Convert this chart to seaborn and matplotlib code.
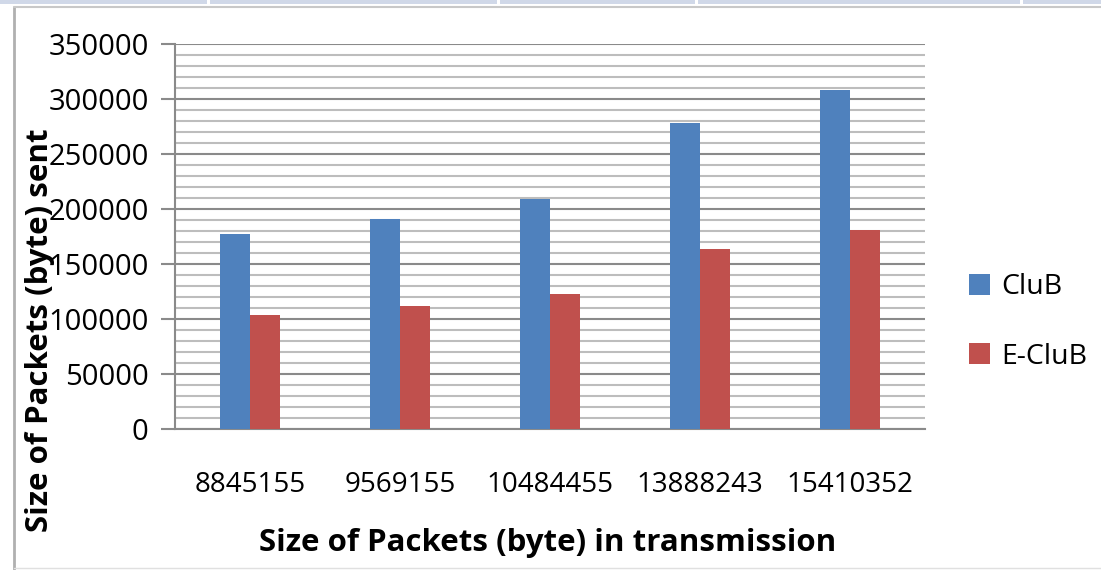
import matplotlib
matplotlib.use("Agg")
import matplotlib.pyplot as plt
import matplotlib.patches as mpatches
import matplotlib.lines as mlines
import seaborn as sns
import pandas as pd
from matplotlib.ticker import MultipleLocator

categories = ["8845155", "9569155", "10484455", "13888243", "15410352"]
club = [177000, 191000, 209000, 278000, 308000]
eclub = [104000, 112000, 123000, 164000, 181000]
series_names = ["CluB", "E-CluB"]
colors = ["#4F81BD", "#C0504D"]

df = pd.DataFrame({
    "cat": categories * 2,
    "val": club + eclub,
    "series": [series_names[0]] * len(categories) + [series_names[1]] * len(categories),
})

sns.set_style("white")
plt.rcParams["font.family"] = ["Open Sans", "DejaVu Sans"]
plt.rcParams["text.color"] = "black"
plt.rcParams["xtick.color"] = "black"
plt.rcParams["ytick.color"] = "black"

W, H = 1101, 570
fig = plt.figure(figsize=(W / 100, H / 100), dpi=100)
ax = fig.add_axes([175 / W, (H - 429.3) / H, 750 / W, 385.3 / H])

sns.barplot(data=df, x="cat", y="val", hue="series", palette=colors,
            width=0.4, ax=ax, saturation=1, edgecolor="none", zorder=3,
            legend=True)

ax.set_ylim(0, 350000)
ax.set_xlim(-0.5, 4.5)
ax.yaxis.set_major_locator(MultipleLocator(50000))
ax.yaxis.set_minor_locator(MultipleLocator(10000))
ax.grid(which="minor", axis="y", color="#bdbdbd", linewidth=1.5, zorder=0)
ax.grid(which="major", axis="y", color="#8a8a8a", linewidth=1.5, zorder=0)
ax.set_axisbelow(True)
for s in ["top", "right"]:
    ax.spines[s].set_visible(False)
for s in ["left", "bottom"]:
    ax.spines[s].set_color("#8a8a8a")
    ax.spines[s].set_linewidth(1.5)
ax.tick_params(axis="y", which="major", length=10, width=1.5, color="#8a8a8a",
               labelcolor="black", labelsize=21, pad=9, left=True)
ax.tick_params(axis="y", which="minor", length=0)
ax.tick_params(axis="x", length=0, labelsize=20, pad=30, labelcolor="black")
ax.set_xlabel("")
ax.set_ylabel("")

handles, labels = ax.get_legend_handles_labels()
leg = ax.legend(handles, labels, loc="center left", bbox_to_anchor=(943 / W, 1 - 322 / H),
                bbox_transform=fig.transFigure, frameon=False, fontsize=20.5,
                handlelength=0.75, handleheight=0.75, handletextpad=0.4,
                labelspacing=1.45)
for t in leg.get_texts():
    t.set_color("black")

fig.text(548 / W, 1 - 543 / H, "Size of Packets (byte) in transmission",
         ha="center", va="center", fontsize=22.5, fontweight="bold", color="black")
fig.text(40 / W, 1 - 330 / H, "Size of Packets (byte) sent", rotation=90,
         ha="center", va="center", fontsize=22.5, fontweight="bold", color="black")

# outer frame decorations
fig.add_artist(mlines.Line2D([14 / W, 14 / W], [0, 1 - 7 / H], transform=fig.transFigure,
                             color="#b0b0b0", linewidth=2))
fig.add_artist(mlines.Line2D([14 / W, 1], [1 - 7 / H, 1 - 7 / H], transform=fig.transFigure,
                             color="#c8c8c8", linewidth=1.5))
fig.add_artist(mlines.Line2D([14 / W, 1], [1 - 568 / H, 1 - 568 / H], transform=fig.transFigure,
                             color="#e0e0e0", linewidth=1))
for x0, x1 in [(0, 207), (210, 497), (500, 695), (698, 1020), (1023, 1101)]:
    fig.add_artist(mpatches.Rectangle((x0 / W, 1 - 4 / H), (x1 - x0) / W, 4 / H,
                                      transform=fig.transFigure, color="#d0d8e8",
                                      linewidth=0))

fig.savefig("out.png", dpi=100)
